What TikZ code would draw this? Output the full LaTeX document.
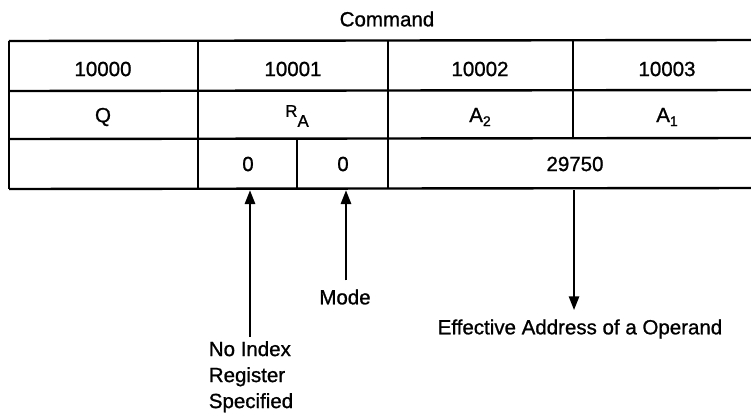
\documentclass[tikz,border=0pt]{standalone}
\usepackage{fontspec}
\setmainfont{Liberation Sans}[FakeBold=1.0]
\usetikzlibrary{arrows.meta}
\begin{document}
\begin{tikzpicture}[x=1pt,y=-1pt,
  txt/.style={inner sep=0pt,font=\fontsize{20.5}{25}\selectfont},
  rule/.style={line width=2.4pt},
  ptr/.style={line width=2.8pt,-{Triangle[length=14pt,width=10pt]}}]
\useasboundingbox (0,0) rectangle (751,413);
% table rules
\draw[rule] (9,41) -- (751,40);
\draw[rule] (9,91) -- (751,90);
\draw[rule] (9,139) -- (751,138);
\draw[rule] (9,189) -- (751,188);
\draw[rule] (9,41) -- (9,189);
\draw[rule] (198,41) -- (198,189);
\draw[rule] (388,41) -- (388,189);
\draw[rule] (573,40) -- (573,138);
\draw[rule] (297,139) -- (297,189);
% texts
\node[txt] (cmd) at (387,19) {Command};
\node[txt] (a0) at (103,69) {10000};
\node[txt] (a1) at (293,69) {10001};
\node[txt] (a2) at (480,69) {10002};
\node[txt] (a3) at (667,69) {10003};
\node[txt] (q) at (103,117) {Q};
\node[txt,font=\fontsize{17}{20}\selectfont] (ra) at (297,116) {\raisebox{5pt}{R}\raisebox{-5pt}{A}};
\node[txt] (atwo) at (480,117) {A\raisebox{-4pt}{\fontsize{14}{16}\selectfont 2}};
\node[txt] (aone) at (667,117) {A\raisebox{-4pt}{\fontsize{14}{16}\selectfont 1}};
\node[txt] (z1) at (248,164) {0};
\node[txt] (z2) at (343,164) {0};
\node[txt] (ea) at (575,164) {29750};
% targets on the bottom rule
\coordinate (t1) at (250,190);
\coordinate (t2) at (346,190);
\coordinate (t3) at (574,190);
% labels
\node[txt,align=left,anchor=north,font=\fontsize{20.5}{26}\selectfont] (noidx) at (251,341) {No Index\\Register\\Specified};
\node[txt] (mode) at (345,297) {Mode};
\node[txt] (eff) at (580,329) {Effective Address of a Operand};
% arrows
\draw[ptr] ([yshift=4pt]noidx.north -| t1) -- (t1);
\draw[ptr] ([yshift=9pt]mode.north -| t2) -- (t2);
\draw[ptr] (t3) -- ([yshift=9pt]eff.north -| t3);
\end{tikzpicture}
\end{document}
